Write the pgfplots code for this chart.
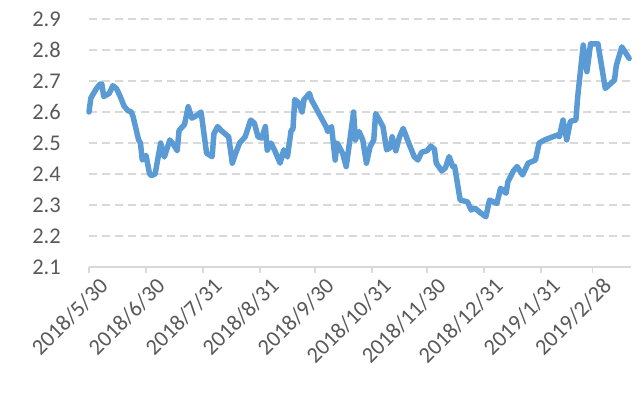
\documentclass[border=0pt]{standalone}
\usepackage{pgfplots}
\pgfplotsset{compat=1.18}
\usepackage{fontspec}
\setmainfont{Carlito}
\definecolor{linecol}{HTML}{5B9BD5}
\definecolor{gridcol}{HTML}{D9D9D9}
\definecolor{textcol}{HTML}{595959}
\pgfplotstableread{
d v
0 2.60
1 2.645
2 2.655
4 2.675
6 2.69
7 2.69
8 2.65
11 2.66
13 2.685
15 2.675
17 2.65
19 2.62
21 2.605
23 2.60
24 2.585
27 2.51
28 2.50
29 2.445
31 2.46
33 2.40
34 2.395
36 2.40
39 2.50
41 2.455
44 2.51
46 2.495
48 2.475
49 2.54
52 2.56
54 2.617
56 2.58
59 2.59
61 2.60
64 2.467
67 2.456
68 2.53
70 2.553
72 2.54
76 2.52
78 2.435
80 2.47
82 2.50
85 2.52
88 2.574
90 2.564
92 2.52
94 2.516
96 2.553
97 2.477
99 2.50
101 2.477
104 2.435
106 2.478
108 2.455
110 2.54
111 2.545
112 2.64
114 2.63
116 2.60
117 2.64
120 2.66
121 2.64
129 2.553
130 2.537
132 2.553
134 2.445
135 2.50
138 2.467
140 2.424
142 2.51
144 2.60
145 2.51
147 2.537
149 2.51
151 2.435
153 2.488
155 2.51
156 2.595
157 2.585
160 2.553
162 2.478
164 2.485
165 2.52
167 2.475
169 2.52
171 2.547
174 2.50
177 2.456
179 2.445
181 2.47
184 2.475
186 2.49
188 2.48
189 2.435
192 2.41
194 2.42
196 2.456
198 2.424
199 2.425
202 2.316
206 2.31
208 2.284
210 2.29
213 2.275
216 2.262
218 2.316
222 2.305
224 2.354
227 2.338
228 2.375
231 2.41
233 2.424
236 2.397
239 2.435
243 2.445
245 2.50
248 2.51
255 2.526
256 2.52
258 2.574
260 2.51
262 2.57
265 2.574
266 2.65
269 2.816
271 2.73
273 2.82
277 2.82
281 2.676
286 2.703
287 2.75
290 2.81
294 2.773
}\ratedata
\begin{document}
\begin{tikzpicture}
\begin{axis}[
  at={(0,0)}, anchor=south west,
  scale only axis, width=542bp, height=248bp,
  xmin=0, xmax=295, ymin=2.1, ymax=2.9,
  clip=false,
  axis x line=bottom, axis y line=left,
  axis line style={-},
  x axis line style={draw=gridcol, line width=1.5bp},
  y axis line style={draw=none},
  xtick={0,31,62,93,123,154,184,215,246,274},
  xticklabels={2018/5/30,2018/6/30,2018/7/31,2018/8/31,2018/9/30,2018/10/31,2018/11/30,2018/12/31,2019/1/31,2019/2/28},
  ytick={2.1,2.2,2.3,2.4,2.5,2.6,2.7,2.8,2.9},
  yticklabel style={/pgf/number format/fixed,/pgf/number format/precision=1,/pgf/number format/fixed zerofill},
  /pgf/number format/assume math mode=true,
  x tick style={draw=gridcol, line width=1.5bp},
  xtick align=outside,
  major tick length=6bp,
  y tick style={draw=none},
  ymajorgrids,
  grid style={draw=gridcol, line width=1.5bp, dash pattern=on 8bp off 5bp},
  tick label style={font=\fontsize{22.5bp}{26bp}\selectfont, text=textcol},
  yticklabel style={inner sep=0pt, anchor=east, xshift=-25bp},
  xticklabel style={rotate=45, anchor=north east, inner sep=0pt, xshift=4bp, yshift=-9bp},
]
\addplot[linecol, line width=5.5bp, line join=round, line cap=round] table[x=d, y=v] {\ratedata};
\end{axis}
\pgfresetboundingbox
\path[use as bounding box] (-89bp,-129bp) rectangle (553bp,267bp);
\draw[gridcol, line width=1bp] (-89bp,-129bp) rectangle (553bp,267bp);
\end{tikzpicture}
\end{document}
